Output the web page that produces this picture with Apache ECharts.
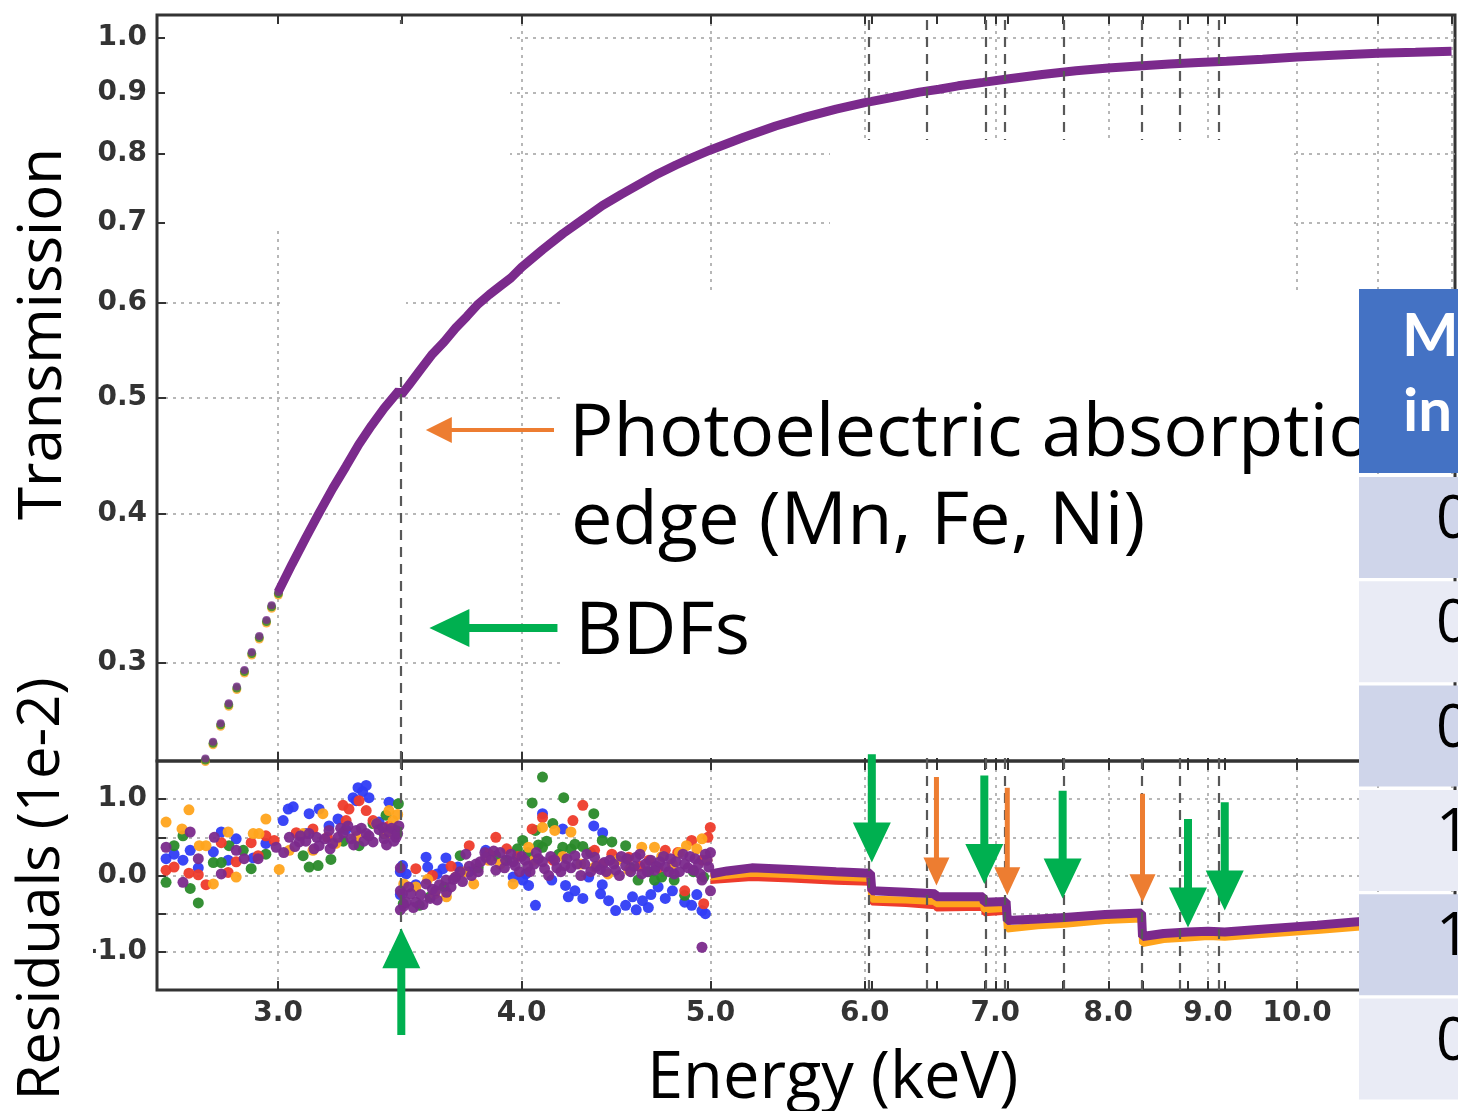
<!DOCTYPE html>
<html><head><meta charset="utf-8">
<script src="https://cdn.jsdelivr.net/npm/echarts@6/dist/echarts.min.js"></script>
<style>html,body{margin:0;padding:0;background:#fff}#c{width:1458px;height:1111px}</style>
</head><body><div id="c"></div>
<script>
// ---------- data ----------
const xTickValues = [3, 4, 5, 6, 7, 8, 9, 10, 11, 12];          // keV (grid lines)
const xLabelValues = [3, 4, 5, 6, 7, 8, 9, 10];                  // visible tick labels
const transTickValues = [0.3, 0.4, 0.5, 0.6, 0.7, 0.8, 0.9, 1.0];
const resTickValues = [-1.0, -0.5, 0.0, 0.5, 1.0];
const bdfEnergies = [3.47, 6.05, 6.91, 7.58, 8.79, 9.18];
const edgeEnergies = [6.53, 7.10, 8.33];

// transmission: separated dots at low energy
const transDotE = [2.753, 2.778, 2.803, 2.830, 2.857, 2.883, 2.908, 2.934, 2.959, 2.977, 3.001];
const transDotT = [0.2496, 0.2578, 0.2671, 0.2776, 0.2867, 0.2960, 0.3064, 0.3160, 0.3259, 0.3353, 0.3440];
// transmission: dense part
const transE = [3.00, 3.05, 3.10, 3.15, 3.20, 3.25, 3.30, 3.35, 3.40, 3.46, 3.47, 3.50, 3.55, 3.60, 3.65, 3.70, 3.75, 3.80, 3.85, 3.90, 3.95, 4.00, 4.10, 4.20, 4.30, 4.40, 4.50, 4.60, 4.70, 4.80, 4.90, 5.00, 5.20, 5.40, 5.60, 5.80, 6.00, 6.05, 6.20, 6.40, 6.55, 6.70, 6.90, 7.10, 7.40, 7.70, 8.00, 8.33, 8.60, 8.90, 9.20, 9.60, 10.0, 10.5, 11.0, 11.5, 12.0];
const transT = [0.344, 0.363, 0.382, 0.401, 0.420, 0.438, 0.457, 0.474, 0.490, 0.507, 0.503, 0.512, 0.528, 0.544, 0.557, 0.572, 0.585, 0.599, 0.610, 0.620, 0.630, 0.643, 0.665, 0.686, 0.705, 0.724, 0.740, 0.755, 0.770, 0.783, 0.795, 0.806, 0.826, 0.844, 0.859, 0.872, 0.883, 0.885, 0.892, 0.901, 0.906, 0.912, 0.918, 0.924, 0.932, 0.939, 0.944, 0.948, 0.951, 0.954, 0.956, 0.960, 0.964, 0.968, 0.971, 0.973, 0.975];

// residuals (1e-2), scattered points [E keV, residual]
const resBlue = [[2.628,0.22],[2.653,0.28],[2.681,0.20],[2.704,0.33],[2.730,0.10],[2.779,0.31],[2.805,0.57],[2.828,0.20],[2.855,0.48],[2.913,0.23],[2.957,0.42],[3.018,0.72],[3.036,0.87],[3.054,0.90],[3.10,0.55],[3.112,0.81],[3.149,0.87],[3.186,0.65],[3.220,0.74],[3.25,0.60],[3.278,1.02],[3.290,0.98],[3.297,1.15],[3.315,1.10],[3.329,1.18],[3.340,1.02],[3.38,0.70],[3.420,0.96],[3.466,0.05],[3.466,-0.25],
 [3.475,0.13],[3.49,0.02],[3.53,-0.12],[3.573,0.24],[3.58,0.11],[3.62,0.02],[3.645,0.09],[3.658,0.23],[3.71,0.11],[3.76,0.05],[3.834,0.33],[3.96,-0.02],[4.005,-0.06],[4.02,0.02],[4.033,-0.13],[4.066,-0.39],[4.10,0.81],[4.145,-0.06],[4.199,0.61],[4.213,-0.13],[4.227,-0.28],[4.26,-0.20],[4.30,-0.30],[4.33,-0.02],[4.356,0.65],[4.391,-0.24],[4.40,-0.12],[4.402,0.56],[4.433,-0.33],[4.47,-0.46],[4.523,-0.39],[4.56,-0.28],[4.58,-0.45],[4.614,-0.33],[4.646,-0.42],[4.66,-0.25],[4.70,-0.15],[4.74,-0.30],[4.78,-0.20],[4.85,-0.35],[4.89,-0.39],[4.92,-0.25],[4.95,-0.46],[4.97,-0.50]];
const resGreen = [[2.628,-0.09],[2.653,0.39],[2.681,0.52],[2.704,-0.17],[2.730,-0.36],[2.779,0.17],[2.805,0.17],[2.831,0.39],[2.879,0.33],[2.906,0.09],[2.957,0.28],[3.090,0.26],[3.112,0.11],[3.145,0.13],[3.193,0.21],[3.24,0.45],[3.301,0.39],[3.356,0.68],[3.40,0.55],[3.408,0.79],[3.449,0.59],[3.458,0.94],
 [3.478,-0.37],[3.545,-0.39],[3.59,-0.28],[3.65,-0.15],[3.72,0.26],[3.80,0.10],[3.88,0.26],[3.93,0.20],[3.98,0.35],[4.005,0.46],[4.03,0.30],[4.05,0.95],[4.066,0.59],[4.08,0.40],[4.10,1.29],[4.10,0.37],[4.12,0.45],[4.15,0.68],[4.18,0.28],[4.199,0.37],[4.204,1.02],[4.24,0.35],[4.26,0.41],[4.30,0.38],[4.34,0.30],[4.356,0.81],[4.40,0.46],[4.45,0.44],[4.523,0.39],[4.55,0.10],[4.59,-0.06],[4.65,0.05],[4.68,-0.06],[4.72,-0.02],[4.79,-0.06],[4.85,-0.26],[4.90,0.05],[4.96,-0.02]];
const resRed = [[2.628,0.07],[2.653,0.11],[2.700,0.03],[2.730,0.01],[2.755,-0.12],[2.805,0.43],[2.828,0.04],[2.855,0.18],[2.906,0.43],[2.930,0.26],[2.957,0.52],[2.986,0.46],[3.065,0.56],[3.126,0.61],[3.18,0.50],[3.239,0.92],[3.251,0.72],[3.262,0.87],[3.301,0.98],[3.329,0.85],[3.356,0.72],[3.42,0.65],
 [3.53,0.09],[3.60,0.0],[3.68,0.12],[3.76,0.39],[3.85,0.28],[3.88,0.50],[3.93,0.35],[3.98,0.25],[4.05,0.61],[4.10,0.76],[4.15,0.20],[4.25,0.72],[4.30,0.92],[4.36,0.33],[4.40,0.15],[4.45,0.28],[4.54,0.24],[4.60,0.12],[4.65,0.20],[4.70,0.10],[4.74,0.33],[4.81,0.30],[4.85,-0.20],[4.89,0.46],[4.95,0.20],[4.96,-0.37],[4.985,0.50],[4.999,0.63]];
const resOrange = [[2.628,0.70],[2.678,0.61],[2.700,0.86],[2.733,0.39],[2.755,0.39],[2.779,-0.11],[2.828,0.57],[2.855,-0.02],[2.913,0.55],[2.933,0.55],[2.957,0.74],[3.004,0.08],[3.040,0.33],[3.090,0.55],[3.126,0.33],[3.163,0.81],[3.212,0.42],[3.290,0.51],[3.368,0.68],[3.408,0.55],[3.420,0.85],[3.436,0.72],[3.455,0.80],
 [3.48,-0.11],[3.53,-0.15],[3.58,-0.05],[3.61,-0.24],[3.66,-0.28],[3.70,-0.02],[3.74,0.05],[3.78,-0.11],[3.845,0.20],[3.90,0.15],[3.96,-0.11],[4.033,0.37],[4.06,0.20],[4.10,0.63],[4.16,0.59],[4.20,0.25],[4.24,0.57],[4.29,0.15],[4.36,0.11],[4.43,0.02],[4.48,0.20],[4.54,0.07],[4.61,0.37],[4.68,0.37],[4.72,0.25],[4.78,0.15],[4.82,0.30],[4.86,0.39],[4.92,0.35],[4.95,0.48],[4.98,0.20]];
const resPurple = [[2.628,0.37],[2.681,-0.09],[2.704,0.57],[2.730,0.22],[2.782,0.50],[2.805,0.02],[2.855,0.33],[2.882,0.22],[2.930,0.22],[2.993,0.37],[3.02,0.30],[3.040,0.50],[3.06,0.38],[3.076,0.44],[3.08,0.52],[3.10,0.45],[3.112,0.55],[3.13,0.35],[3.14,0.50],[3.149,0.39],[3.17,0.48],[3.186,0.59],[3.19,0.35],[3.20,0.42],[3.220,0.50],[3.23,0.62],[3.24,0.56],[3.258,0.65],[3.27,0.48],[3.28,0.40],[3.290,0.59],[3.31,0.62],[3.32,0.45],[3.329,0.55],[3.34,0.52],[3.356,0.44],[3.37,0.68],[3.38,0.60],[3.396,0.63],[3.40,0.48],[3.41,0.40],[3.420,0.57],[3.43,0.62],[3.44,0.45],[3.449,0.50],[3.455,0.55],[3.46,0.65],[3.466,0.10],[3.466,-0.20],[3.466,-0.45],
 [3.475,-0.24],[3.48,-0.40],[3.49,-0.35],[3.50,-0.15],[3.51,-0.24],[3.52,-0.42],[3.53,-0.35],[3.55,-0.25],[3.56,-0.38],[3.573,-0.11],[3.59,-0.30],[3.60,-0.18],[3.614,-0.20],[3.62,-0.32],[3.63,-0.12],[3.658,-0.06],[3.66,-0.22],[3.68,-0.15],[3.69,-0.05],[3.70,-0.02],[3.72,0.05],[3.73,-0.08],[3.745,0.28],[3.76,0.12],[3.77,0.00],[3.79,0.15],[3.80,0.05],[3.81,0.18],[3.83,0.30],[3.834,0.24],[3.86,0.20],[3.87,0.32],[3.88,0.07],[3.90,0.30],[3.92,0.10],[3.925,0.20],[3.95,0.28],[3.96,0.18],[3.97,0.13],[3.99,0.05],[4.00,0.25],[4.015,0.20],[4.03,0.12],[4.04,0.05],[4.06,0.15],[4.07,0.30],[4.08,0.22],[4.10,0.18],[4.11,0.09],[4.13,0.00],[4.14,0.25],[4.16,0.20],[4.17,0.10],[4.19,0.05],[4.21,0.13],[4.22,0.22],[4.24,0.10],[4.26,0.26],[4.27,0.15],[4.29,0.00],[4.31,0.15],[4.32,0.28],[4.34,0.05],[4.36,0.24],[4.37,0.12],[4.39,0.08],[4.41,0.17],[4.42,0.05],[4.44,0.20],[4.46,0.15],[4.47,0.07],[4.49,0.00],[4.50,0.25],[4.523,0.13],[4.53,0.22],[4.55,0.05],[4.57,0.12],[4.58,0.24],[4.60,0.28],[4.61,0.02],[4.63,0.15],[4.64,0.05],[4.66,0.20],[4.68,0.07],[4.69,0.12],[4.71,0.18],[4.73,0.25],[4.74,0.11],[4.76,0.05],[4.77,0.22],[4.79,0.02],[4.80,0.18],[4.82,0.05],[4.84,0.28],[4.85,0.15],[4.87,0.10],[4.88,0.25],[4.90,0.07],[4.91,0.22],[4.93,0.15],[4.94,0.02],[4.95,-0.06],[4.97,0.28],[4.98,0.20],[4.99,0.11],[5.0,0.30],[5.0,-0.20],[4.95,-0.94]];
// residual bands above 5 keV
const bandPurple = [[5.0,0.02],[5.1,0.06],[5.25,0.10],[5.5,0.08],[5.8,0.05],[6.04,0.03],[6.05,-0.20],[6.3,-0.22],[6.52,-0.24],[6.53,-0.28],[6.90,-0.28],[6.91,-0.35],[7.09,-0.34],[7.10,-0.59],[7.36,-0.57],[7.6,-0.55],[7.97,-0.51],[8.32,-0.49],[8.33,-0.80],[8.54,-0.76],[8.79,-0.74],[9.0,-0.73],[9.18,-0.74],[9.51,-0.71],[10.24,-0.65],[10.7,-0.61],[11.5,-0.55]];
const bandOrange = [[5.0,-0.02],[5.25,0.03],[5.5,0.01],[5.8,-0.02],[6.04,-0.04],[6.05,-0.31],[6.3,-0.32],[6.52,-0.34],[6.53,-0.37],[6.90,-0.37],[6.91,-0.45],[7.09,-0.43],[7.10,-0.70],[7.36,-0.66],[7.6,-0.64],[7.97,-0.59],[8.32,-0.57],[8.33,-0.89],[8.54,-0.84],[8.79,-0.82],[9.0,-0.80],[9.18,-0.81],[9.51,-0.78],[10.24,-0.72],[10.7,-0.68],[11.5,-0.62]];
const bandRed = [[5.0,-0.08],[5.25,-0.04],[5.5,-0.06],[5.8,-0.09],[6.04,-0.10],[6.05,-0.36],[6.3,-0.38],[6.52,-0.41],[6.53,-0.44],[6.90,-0.43],[6.91,-0.50],[7.09,-0.48]];
// arrows: [E from, value from, E tip, value tip, kind]  kind 0 green, 1 orange, 2 thin orange
const residualArrows = [[6.05,1.59,6.05,0.17,0],[6.91,1.31,6.91,-0.11,0],[7.58,1.11,7.58,-0.30,0],[8.79,0.74,8.79,-0.68,0],[9.18,0.96,9.18,-0.46,0],[3.47,-2.09,3.47,-0.69,0],
  [6.53,1.29,6.53,-0.13,1],[7.10,1.15,7.10,-0.26,1],[8.33,1.07,8.33,-0.35,1]];
const legendArrows = [[4.156,0.470,3.572,0.470,2],[4.173,0.321,3.587,0.321,0]];
const tableColumn = ['0', '0', '0', '1', '1', '0'];

// ---------- chart ----------
const L = Math.log10;
const C = {blue:'#2f3cf5', green:'#2a8a2a', red:'#ee3b2b', orange:'#ffa41c', purple:'#7b2a8c'};
const gridLine = {color:'#a0a0a0', width:1.5, type:[3,5]};
const tickLine = {color:'#333', width:2};
const labelFont = {fontFamily:'DejaVu Sans', fontWeight:'bold', fontSize:28, color:'#333'};
const textFont = 'Open Sans';
const xMin = L(2.6), xMax = L(12.05);
const specialTicks = xTickValues.concat(bdfEnergies, edgeEnergies).map(L);
const ARROW = [
  {color:'#00B050', shaft:8, width:38, head:40},
  {color:'#ED7D31', shaft:5, width:26, head:28},
  {color:'#ED7D31', shaft:4, width:26, head:26}];
function arrowItem(params, api) {
  const a = api.coord([api.value(0), api.value(1)]);
  const b = api.coord([api.value(2), api.value(3)]);
  const s = ARROW[api.value(4)];
  const dx = b[0]-a[0], dy = b[1]-a[1], len = Math.hypot(dx, dy);
  const ux = dx/len, uy = dy/len, nx = -uy, ny = ux;
  const hx = b[0]-ux*s.head, hy = b[1]-uy*s.head, sw = s.shaft/2, hw = s.width/2;
  return {type:'polygon', shape:{points:[
    [a[0]+nx*sw, a[1]+ny*sw],[hx+nx*sw, hy+ny*sw],[hx+nx*hw, hy+ny*hw],[b[0],b[1]],
    [hx-nx*hw, hy-ny*hw],[hx-nx*sw, hy-ny*sw],[a[0]-nx*sw, a[1]-ny*sw]]},
    style:{fill:s.color}};
}
const toXY = arr => arr.map(p => [L(p[0]), p[1]]);
const dashedLines = {silent:true, symbol:['none','none'], label:{show:false}, emphasis:{disabled:true},
  lineStyle:{type:[10,7], color:'#585858', width:2.2},
  data: bdfEnergies.concat(edgeEnergies).map(e => ({xAxis:L(e)}))};

function xAxisMain(gridIndex, labels) {
  return {type:'value', gridIndex, position:'bottom', min:xMin, max:xMax, axisLine:{show:false},
    axisTick:{show:false, customValues: xTickValues.map(L)},
    axisLabel:{show:labels, customValues: xLabelValues.map(L), margin:10, ...labelFont,
      formatter: v => Math.pow(10, v).toFixed(1)},
    splitLine:{show:true, lineStyle:gridLine}};
}
function xAxisTicks(gridIndex, position) {
  return {type:'value', gridIndex, position, min:xMin, max:xMax, axisLine:{show:false},
    axisTick:{show:true, inside:true, length:9, customValues: specialTicks, lineStyle:tickLine},
    axisLabel:{show:false}, splitLine:{show:false}};
}
const scatterRes = (data, color) => ({type:'scatter', xAxisIndex:2, yAxisIndex:1, data:toXY(data),
  symbolSize:11, itemStyle:{color, opacity:0.95}, silent:true});
const bandLine = (data, color, width, extra) => Object.assign({type:'line', xAxisIndex:2, yAxisIndex:1,
  data:toXY(data), symbol:'none', lineStyle:{color, width}, silent:true}, extra || {});

const transDots = transDotE.map((e, i) => [L(e), L(transDotT[i])]);
const txt = (x, y, text, size, extra) => ({type:'text', z:30, silent:true, x, y,
  style:Object.assign({text, fontFamily:textFont, fontSize:size, fill:'#000', verticalAlign:'middle', textVerticalAlign:'middle'}, extra || {})});
const option = {
  animation:false, backgroundColor:'#fff',
  grid:[
    {left:157, top:15, width:1298, height:746, show:true, borderColor:'#333', borderWidth:3, outerBoundsMode:'none', containLabel:false},
    {left:157, top:761, width:1298, height:229, show:true, borderColor:'#333', borderWidth:3, outerBoundsMode:'none', containLabel:false}],
  xAxis:[xAxisMain(0,false), xAxisTicks(0,'top'), xAxisMain(1,true), xAxisTicks(1,'top'), xAxisTicks(1,'bottom'), xAxisTicks(0,'bottom')],
  yAxis:[
    {type:'value', gridIndex:0, min:L(0.2484), max:L(1.0453), axisLine:{show:false},
     axisTick:{inside:true, length:9, customValues: transTickValues.map(L), lineStyle:tickLine},
     axisLabel:{customValues: transTickValues.map(L), margin:10, ...labelFont, formatter: v => Math.pow(10, v).toFixed(1)},
     splitLine:{show:true, lineStyle:gridLine}},
    {type:'value', gridIndex:1, min:-1.5, max:1.5, axisLine:{show:false},
     axisTick:{inside:true, length:9, customValues: resTickValues, lineStyle:tickLine},
     axisLabel:{customValues: resTickValues, margin:10, ...labelFont,
       formatter: v => Math.abs(v % 1) < 1e-9 ? (Math.abs(v) < 1e-9 ? '0.0' : v.toFixed(1)) : ''},
     splitLine:{show:true, lineStyle:gridLine}}],
  series:[
    {type:'scatter', xAxisIndex:0, yAxisIndex:0, data:transDots, symbolSize:9, symbolOffset:[0,3], itemStyle:{color:C.orange}, silent:true},
    {type:'scatter', xAxisIndex:0, yAxisIndex:0, data:transDots, symbolSize:9, symbolOffset:[0,1.5], itemStyle:{color:C.green}, silent:true},
    {type:'scatter', xAxisIndex:0, yAxisIndex:0, data:transDots, symbolSize:8, itemStyle:{color:C.purple}, silent:true},
    {type:'line', xAxisIndex:0, yAxisIndex:0, data:transE.map((e,i)=>[L(e), L(transT[i])]), symbol:'none',
     lineStyle:{color:C.purple, width:9}, silent:true, markLine:dashedLines},
    scatterRes(resBlue, C.blue), scatterRes(resGreen, C.green), scatterRes(resRed, C.red),
    scatterRes(resOrange, C.orange), scatterRes(resPurple, C.purple),
    bandLine(bandRed, C.red, 5), bandLine(bandOrange, C.orange, 7),
    bandLine(bandPurple, C.purple, 9, {markLine:dashedLines}),
    {type:'custom', xAxisIndex:2, yAxisIndex:1, clip:false, z:20, silent:true, renderItem:arrowItem,
     encode:{x:[0,2], y:[1,3]}, data:residualArrows.map(a => [L(a[0]), a[1], L(a[2]), a[3], a[4]])},
    {type:'custom', xAxisIndex:0, yAxisIndex:0, clip:false, z:20, silent:true, renderItem:arrowItem,
     encode:{x:[0,2], y:[1,3]}, data:legendArrows.map(a => [L(a[0]), L(a[1]), L(a[2]), L(a[3]), a[4]])}
  ],
  graphic:[
    // white boxes of the slide lying over the plot
    {type:'rect', z:10, silent:true, shape:{x:165, y:24, width:345, height:204}, style:{fill:'#fff'}},
    {type:'rect', z:10, silent:true, shape:{x:283, y:228, width:123, height:145}, style:{fill:'#fff'}},
    {type:'rect', z:10, silent:true, shape:{x:830, y:140, width:464, height:150}, style:{fill:'#fff'}},
    {type:'rect', z:10, silent:true, shape:{x:563, y:290, width:797, height:468}, style:{fill:'#fff'}},
    {type:'rect', z:10, silent:true, shape:{x:0, y:930, width:93, height:40}, style:{fill:'#fff'}},
    // annotation texts
    txt(569, 435, 'Photoelectric absorption', 74),
    txt(571, 523, 'edge (Mn, Fe, Ni)', 74),
    txt(575, 633, 'BDFs', 74),
    txt(647, 1079, 'Energy (keV)', 65),
    Object.assign(txt(44, 334, 'Transmission', 60, {align:'center', textAlign:'center'}), {rotation:Math.PI/2}),
    Object.assign(txt(42, 889, 'Residuals (1e-2)', 58, {align:'center', textAlign:'center'}), {rotation:Math.PI/2}),
    // table on the right
    {type:'rect', z:40, silent:true, shape:{x:1359, y:289, width:99, height:184}, style:{fill:'#4472C4'}},
    {type:'text', z:41, silent:true, x:1402, y:337, style:{text:'M', fontFamily:'Lato', fontWeight:'bold', fontSize:60, fill:'#fff', verticalAlign:'middle', textVerticalAlign:'middle'}},
    {type:'text', z:41, silent:true, x:1403, y:412, style:{text:'in', fontFamily:'Lato', fontWeight:'bold', fontSize:60, fill:'#fff', verticalAlign:'middle', textVerticalAlign:'middle'}}
  ].concat(tableColumn.flatMap((t, i) => {
    const y0 = 477 + i * 104.3;
    return [
      {type:'rect', z:40, silent:true, shape:{x:1359, y:y0, width:99, height:101}, style:{fill: i % 2 === 0 ? '#CFD5EA' : '#E9EBF5'}},
      {type:'text', z:41, silent:true, x:1436, y:y0 + 44, style:{text:t, fontFamily:'Open Sans', fontSize:60, fill:'#000', verticalAlign:'middle', textVerticalAlign:'middle'}}];
  }))
};
const chart = echarts.init(document.getElementById('c'), null, {renderer:'canvas'});
chart.setOption(option);
</script></body></html>
